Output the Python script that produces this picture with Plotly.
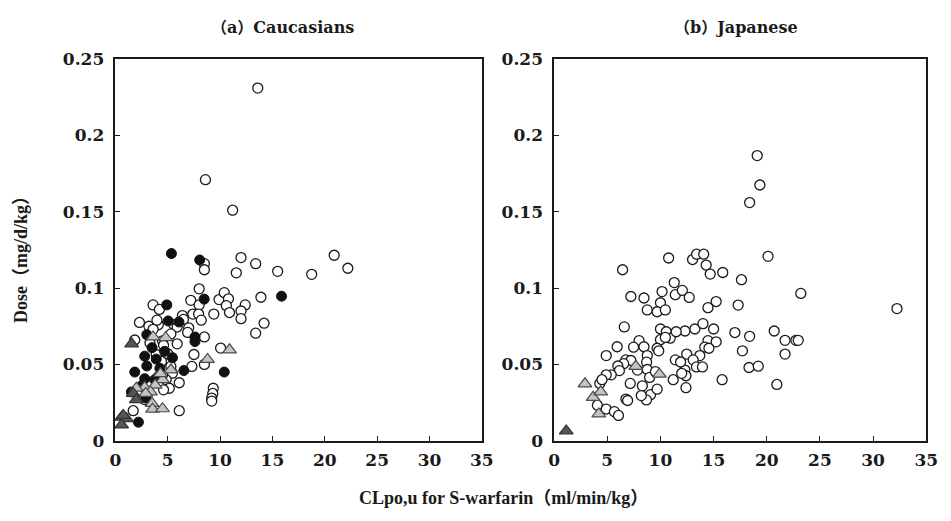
import plotly.graph_objects as go

# ---------------- data ----------------
# (a) Caucasians
cau_open_x = [13.6, 8.6, 11.2, 8.5, 8.5, 12.0, 13.4, 11.55, 15.5, 18.75, 20.9, 22.2, 8.0, 7.2, 9.9, 10.4, 10.8, 10.6,
              13.9, 12.4, 8.0, 12.0, 3.6, 4.2, 6.4, 6.5, 7.4, 7.95, 8.2, 9.4, 10.9, 12.0, 14.2, 13.4, 2.3, 3.2, 4.1,
              5.6, 5.9, 7.0, 6.9, 8.5, 1.85, 5.3, 4.5, 5.9, 4.6, 3.9, 7.5, 7.3, 8.5, 10.05, 5.3, 5.45, 4.85, 5.15,
              4.6, 6.1, 6.1, 9.35, 9.3, 9.2, 9.2, 1.7, 2.8, 2.6, 4.1, 3.97, 3.6, 4.5, 3.3, 4.4, 5.0, 2.2]
cau_open_y = [0.231, 0.171, 0.151, 0.116, 0.112, 0.120, 0.116, 0.110, 0.111, 0.109, 0.1215, 0.113, 0.0995, 0.092,
              0.0925, 0.097, 0.093, 0.0885, 0.094, 0.089, 0.089, 0.085, 0.089, 0.086, 0.082, 0.0795, 0.083, 0.083,
              0.079, 0.083, 0.084, 0.080, 0.077, 0.0705, 0.0775, 0.075, 0.076, 0.076, 0.0745, 0.074, 0.071, 0.068,
              0.066, 0.070, 0.0655, 0.0635, 0.0625, 0.0565, 0.0565, 0.0487, 0.050, 0.0607, 0.0487, 0.0443, 0.040,
              0.0344, 0.0334, 0.038, 0.0197, 0.0344, 0.031, 0.028, 0.026, 0.0197, 0.027, 0.034, 0.042, 0.079,
              0.073, 0.043, 0.064, 0.052, 0.057, 0.030]
cau_fill_x = [5.35, 8.05, 8.48, 4.91, 15.87, 5.04, 6.07, 3.0, 7.6, 7.6, 3.5, 4.7, 2.8, 5.45, 3.0, 4.25, 1.85, 6.54,
              10.4, 2.8, 3.75, 1.53, 2.9, 2.2, 3.9, 2.5]
cau_fill_y = [0.1226, 0.1184, 0.0928, 0.089, 0.0947, 0.0785, 0.0778, 0.0695, 0.068, 0.065, 0.061, 0.0586, 0.0554,
              0.0544, 0.049, 0.0475, 0.045, 0.046, 0.045, 0.0407, 0.040, 0.032, 0.028, 0.0122, 0.0535, 0.036]
cau_tri_light_x = [3.6, 4.8, 8.8, 10.9, 5.3, 4.5, 3.8, 2.8, 2.0, 3.35, 2.9, 3.5, 3.55, 4.5, 4.3]
cau_tri_light_y = [0.068, 0.0675, 0.0533, 0.0596, 0.0465, 0.040, 0.0365, 0.035, 0.0345, 0.032, 0.031, 0.0245,
                   0.0207, 0.021, 0.044]
cau_tri_dark_x = [1.55, 1.7, 2.0, 0.6, 1.06, 0.6, 0.75]
cau_tri_dark_y = [0.0635, 0.031, 0.027, 0.0155, 0.0145, 0.0104, 0.0166]

# (b) Japanese
jap_open_x = [6.44, 10.77, 7.22, 8.45, 10.15, 11.3, 11.4, 10.0, 8.76, 9.69, 10.46, 12.06, 19.1, 19.35, 18.39, 13.02,
              13.4, 14.07, 14.3, 14.68, 15.86, 20.12, 17.62, 12.71, 15.24, 14.47, 17.31, 23.2, 32.25, 12.31, 13.24,
              14.0, 15.0, 17.0, 18.39, 20.7, 21.72, 22.74, 22.96, 14.47, 15.24, 14.17, 14.56, 12.47, 13.7, 13.08,
              13.39, 13.95, 17.71, 21.72, 18.33, 19.2, 15.8, 20.95, 12.3, 12.4, 12.4, 6.6, 5.93, 4.9, 7.99, 7.47,
              8.45, 10.0, 10.55, 10.92, 11.48, 10.0, 10.46, 9.69, 9.84, 8.76, 8.7, 6.75, 7.22, 6.54, 5.99, 6.14,
              7.84, 8.76, 8.98, 9.53, 5.37, 4.9, 4.3, 4.5, 7.16, 8.3, 9.07, 8.68, 9.69, 8.2, 6.75, 6.91, 4.07, 4.9,
              5.67, 6.05, 11.4, 11.9, 12.0, 11.2]
jap_open_y = [0.112, 0.1197, 0.0945, 0.0935, 0.0977, 0.1036, 0.0957, 0.0904, 0.0857, 0.0845, 0.0857, 0.0985, 0.1868,
              0.1675, 0.156, 0.1187, 0.1222, 0.1222, 0.1151, 0.1092, 0.1102, 0.1208, 0.1055, 0.0939, 0.0912, 0.0872,
              0.0889, 0.0965, 0.0866, 0.0719, 0.0732, 0.0767, 0.0732, 0.0709, 0.0684, 0.0719, 0.0658, 0.0658, 0.0658,
              0.0656, 0.0648, 0.0614, 0.0606, 0.0568, 0.0558, 0.053, 0.0484, 0.0484, 0.0589, 0.0568, 0.048, 0.0489,
              0.040, 0.0369, 0.0463, 0.0426, 0.0348, 0.0746, 0.0616, 0.0558, 0.0656, 0.0613, 0.0616, 0.0732, 0.0714,
              0.0672, 0.0714, 0.0662, 0.0677, 0.0606, 0.0589, 0.0558, 0.0515, 0.053, 0.0526, 0.0505, 0.049, 0.046,
              0.0463, 0.0467, 0.0415, 0.0453, 0.0432, 0.0432, 0.0376, 0.040, 0.0376, 0.036, 0.0302, 0.0268, 0.0338,
              0.0296, 0.0273, 0.0264, 0.0233, 0.0208, 0.0191, 0.0166, 0.053, 0.0516, 0.0442, 0.040]
jap_tri_light_x = [2.9, 3.67, 4.38, 4.2, 7.68, 9.9]
jap_tri_light_y = [0.0373, 0.0285, 0.0321, 0.0176, 0.0488, 0.0436]
jap_tri_dark_x = [1.14]
jap_tri_dark_y = [0.0065]

x_ticks = [0, 5, 10, 15, 20, 25, 30, 35]
y_ticks = [0, 0.05, 0.1, 0.15, 0.2, 0.25]
y_tick_text = ["0", "0.05", "0.1", "0.15", "0.2", "0.25"]

# ---------------- styles ----------------
W, H = 951, 521
SIZE = 10
open_style = dict(symbol="circle", size=SIZE, color="white", line=dict(color="#1a1a1a", width=1.3))
fill_style = dict(symbol="circle", size=SIZE, color="#111111", line=dict(color="#111111", width=1))
tri_light_style = dict(symbol="triangle-up", size=SIZE + 2, color="#c4c4c4", line=dict(color="#4a4a4a", width=1.2))
tri_dark_style = dict(symbol="triangle-up", size=SIZE + 2, color="#555555", line=dict(color="#333333", width=1.2))

fig = go.Figure()


def add(x, y, style, xa, ya):
    fig.add_trace(go.Scatter(x=x, y=y, mode="markers", marker=style, xaxis=xa, yaxis=ya,
                             showlegend=False, cliponaxis=False, hoverinfo="x+y"))


add(cau_open_x, cau_open_y, open_style, "x", "y")
add(cau_fill_x, cau_fill_y, fill_style, "x", "y")
add(cau_tri_light_x, cau_tri_light_y, tri_light_style, "x", "y")
add(cau_tri_dark_x, cau_tri_dark_y, tri_dark_style, "x", "y")
add(jap_open_x, jap_open_y, open_style, "x2", "y2")
add(jap_tri_light_x, jap_tri_light_y, tri_light_style, "x2", "y2")
add(jap_tri_dark_x, jap_tri_dark_y, tri_dark_style, "x2", "y2")

TICKFONT = dict(family="DejaVu Serif", size=17, color="#1a1a1a", weight="bold")

# pixel geometry
L1, R1 = 111.5, 485.0
L2, R2 = 558.7, 938.0
TOP, BOT = 51.0, 448.0
ydom = [(H - BOT) / H, (H - TOP) / H]

xaxis_common = dict(range=[0, 35], tickvals=x_ticks, ticks="inside", ticklen=5, tickwidth=1.2,
                    tickcolor="#1a1a1a", showline=True, linecolor="#1a1a1a", linewidth=1.5, mirror=True,
                    showgrid=False, zeroline=False, tickfont=TICKFONT, fixedrange=True, ticklabelstandoff=3)
yaxis_common = dict(range=[0, 0.25], tickvals=y_ticks, ticktext=y_tick_text, ticks="inside", ticklen=5,
                    tickwidth=1.2, tickcolor="#1a1a1a", showline=True, linecolor="#1a1a1a", linewidth=1.5,
                    mirror=True, showgrid=False, zeroline=False, tickfont=TICKFONT, fixedrange=True,
                    ticklabelstandoff=6)

TITLEFONT = dict(family="Liberation Serif, Noto Sans CJK SC", size=18, color="#1a1a1a", weight="bold")
PANELFONT = dict(family="DejaVu Serif, Noto Sans CJK SC", size=16, color="#1a1a1a", weight="bold")

fig.update_layout(
    width=W, height=H,
    margin=dict(l=0, r=0, t=0, b=0),
    paper_bgcolor="white", plot_bgcolor="white",
    xaxis=dict(domain=[L1 / W, R1 / W], anchor="y", **xaxis_common),
    yaxis=dict(domain=ydom, anchor="x", **yaxis_common),
    xaxis2=dict(domain=[L2 / W, R2 / W], anchor="y2", **xaxis_common),
    yaxis2=dict(domain=ydom, anchor="x2", **yaxis_common),
    annotations=[
        dict(text="（a）Caucasians", x=282 / W, y=1 - 18 / H, xref="paper", yref="paper", showarrow=False,
             xanchor="center", yanchor="middle", font=PANELFONT),
        dict(text="（b）Japanese", x=744 / W, y=1 - 18 / H, xref="paper", yref="paper", showarrow=False,
             xanchor="center", yanchor="middle", font=PANELFONT),
        dict(text="CLpo,u for S-warfarin（ml/min/kg）", x=507 / W, y=1 - 507 / H, xref="paper", yref="paper",
             showarrow=False, xanchor="center", yanchor="middle", font=TITLEFONT),
        dict(text="Dose（mg/d/kg）", x=16 / W, y=1 - 255 / H, xref="paper", yref="paper", showarrow=False,
             xanchor="center", yanchor="middle", textangle=-90, font=TITLEFONT),
    ],
)

fig.write_html("out.html")
